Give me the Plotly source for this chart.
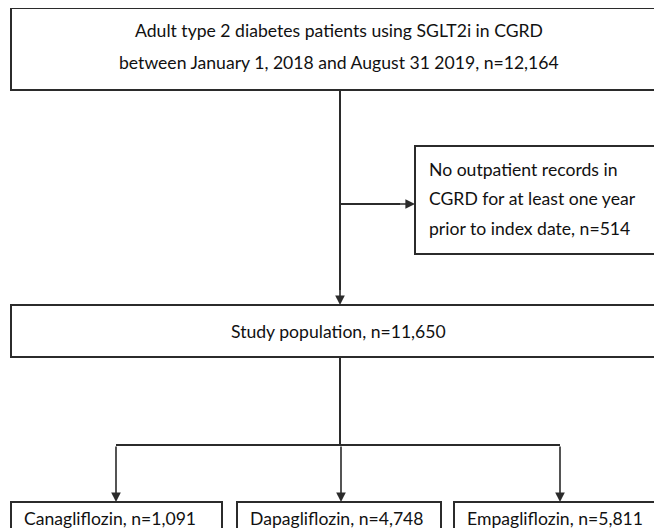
import plotly.graph_objects as go

# ---- data ----
top_label = ["Adult type 2 diabetes patients using SGLT2i in CGRD",
             "between January 1, 2018 and August 31 2019, n=12,164"]
excl_label = ["No outpatient records in",
              "CGRD for at least one year",
              "prior to index date, n=514"]
study_label = "Study population, n=11,650"
drug_names = ["Canagliflozin", "Dapagliflozin", "Empagliflozin"]
drug_n = ["1,091", "4,748", "5,811"]

W, H = 662, 528
OFF = 8  # page body margin
FONT = "Lato"
LC = "#2b2b2b"
FS = 17.6

fig = go.Figure()
fig.add_trace(go.Scatter(x=[100], y=[100], mode="markers", marker=dict(opacity=0),
                         hoverinfo="skip", showlegend=False))

shapes = []
def box(x0, y0, x1, y1):
    shapes.append(dict(type="rect", xref="x", yref="y", x0=x0, y0=y0, x1=x1, y1=y1,
                       line=dict(color=LC, width=2), fillcolor="white", layer="below"))
def line(x0, y0, x1, y1):
    shapes.append(dict(type="line", xref="x", yref="y", x0=x0, y0=y0, x1=x1, y1=y1,
                       line=dict(color=LC, width=2)))

ann = []
def text(x, y, s, anchor="center", size=FS):
    ann.append(dict(x=x, y=y, xref="x", yref="y", text=s, showarrow=False,
                    xanchor=anchor, yanchor="middle", font=dict(family=FONT, size=size, color="#111")))
def arrow(x0, y0, x1, y1):
    ann.append(dict(x=x1, y=y1, ax=x0, ay=y0, xref="x", yref="y", axref="x", ayref="y",
                    text="", showarrow=True, arrowhead=2, arrowsize=1.2, arrowwidth=1.6,
                    arrowcolor=LC, standoff=0, startstandoff=0))

# boxes
box(11, 8, 690, 90)
box(415, 146, 690, 254)
box(11, 305, 690, 357)
bx = [(11, 222), (237, 441), (454, 690)]
for (a, b) in bx:
    box(a, 502, b, 570)

# connectors
line(340, 90, 340, 290)
arrow(340, 280, 340, 305)
line(340, 204, 400, 204)
arrow(395, 204, 415, 204)
line(340, 357, 340, 445)
line(116, 445, 560, 445)
for xc in [116, 341, 560]:
    arrow(xc, 445, xc, 502)

# texts
text(339, 30, top_label[0])
text(339, 62, top_label[1])
for i, s in enumerate(excl_label):
    text(427, 169 + i * 29.5, s, anchor="left")
text(338, 331, study_label)
for (a, b), nm, n in zip(bx, drug_names, drug_n):
    text(a + 11, 518, f"{nm}, n={n}", anchor="left")

fig.update_layout(width=W - OFF, height=H - OFF, margin=dict(l=0, r=0, t=0, b=0),
                  paper_bgcolor="white", plot_bgcolor="white",
                  xaxis=dict(range=[OFF, W], visible=False, fixedrange=True),
                  yaxis=dict(range=[H, OFF], visible=False, fixedrange=True),
                  shapes=shapes, annotations=ann, showlegend=False)
fig.write_html("out.html", config={"displayModeBar": False})
